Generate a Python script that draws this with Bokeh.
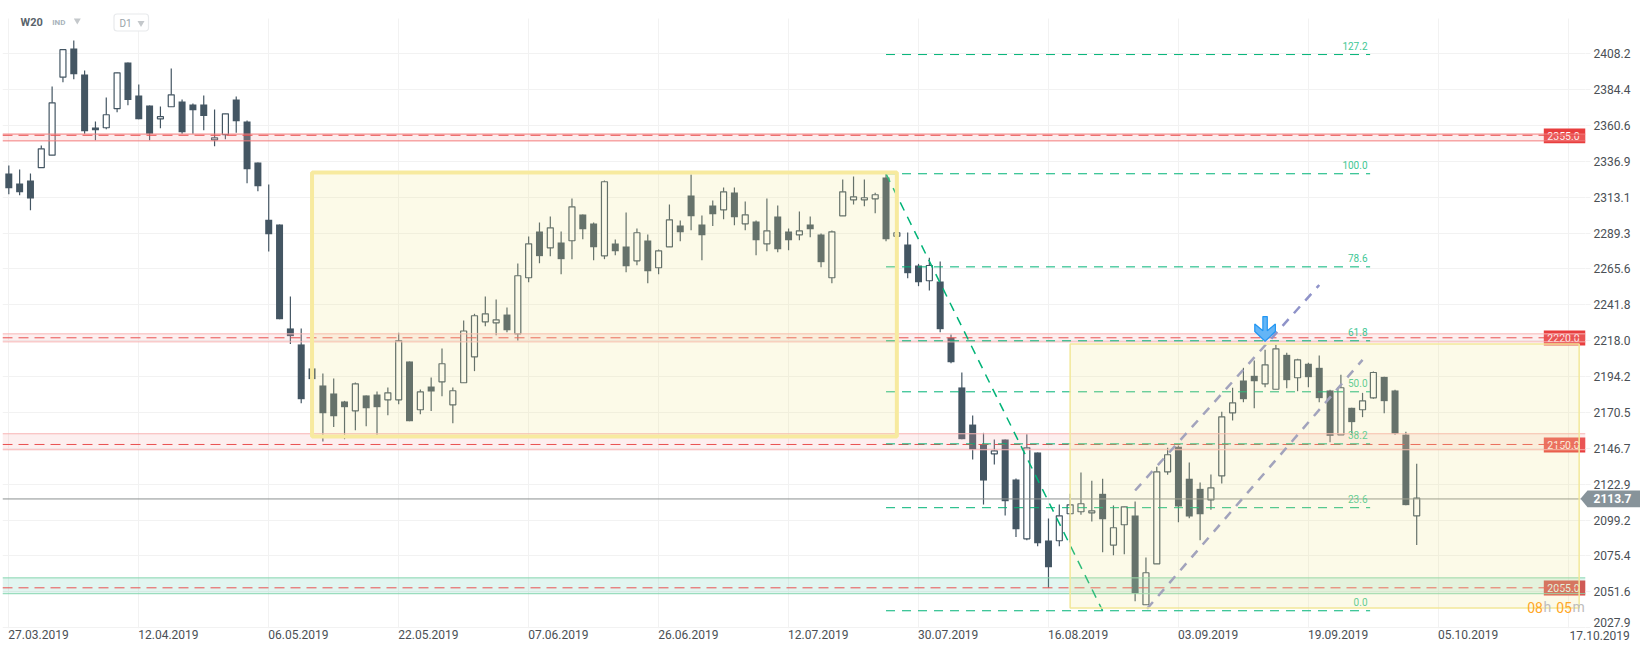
from bokeh.plotting import figure
from bokeh.embed import file_html
from bokeh.resources import INLINE
from bokeh.core.properties import value
from bokeh.models import FixedTicker, Range1d

# ---- candles (price units), index = trading-bar number ----
open_ = [2328.9,2322.2,2324.2,2332.7,2341.0,2392.7,2411.7,2394.5,2359.4,2359.2,2371.8,2402.4,2380.6,2373.9,2365.1,2373.1,2376.6,2374.6,2374.6,2351.2,2354.7,2377.9,2363.3,2336.2,2298.2,2295.1,2226.2,2215.6,2199.7,2188.4,
 2183.1,2177.8,2171.6,2181.8,2182.4,2178.9,2178.9,2204.3,2172.3,2187.7,2190.8,2175.6,2190.2,2207.4,2230.6,2229.9,2235.4,2222.6,2259.8,2290.4,2279.6,2283.2,2284.3,2301.7,2295.7,2274.3,2282.5,2280.5,2271.0,2284.5,
 2266.4,2280.3,2294.4,2314.3,2295.1,2307.7,2304.8,2316.3,2295.5,2297.1,2282.3,2300.4,2290.4,2288.2,2295.1,2288.5,2259.8,2300.8,2311.4,2311.4,2312.1,2326.2,2287.3,2281.8,2267.9,2257.8,2257.3,2220.0,2187.1,2162.5,
 2149.1,2143.1,2152.6,2126.1,2086.8,2144.0,2085.7,2085.5,2103.4,2104.7,2104.0,2116.6,2082.6,2096.1,2102.2,2043.1,2070.2,2131.2,2147.8,2126.6,2119.9,2112.6,2128.5,2170.3,2191.7,2194.8,2189.5,2185.9,2208.7,2193.5,
 2202.8,2200.1,2185.1,2155.7,2173.6,2172.3,2180.2,2194.1,2185.1,2155.9,2102.0]
high = [2334.2,2331.5,2328.9,2347.4,2386.5,2410.9,2417.0,2397.1,2363.3,2379.2,2395.8,2402.4,2387.9,2373.9,2373.3,2398.5,2377.9,2375.3,2380.6,2371.3,2368.4,2379.9,2364.0,2336.2,2321.6,2295.1,2247.4,2226.2,2199.7,2196.3,
 2193.0,2178.2,2190.4,2181.8,2184.4,2187.1,2223.3,2204.3,2185.7,2193.7,2212.9,2187.1,2231.5,2235.9,2247.4,2245.4,2240.1,2269.2,2287.1,2296.4,2300.4,2290.4,2312.3,2301.7,2296.4,2324.2,2285.1,2303.0,2292.4,2288.5,
 2278.5,2308.3,2297.7,2328.2,2301.0,2311.0,2319.6,2319.6,2310.3,2297.7,2312.3,2307.7,2292.4,2303.7,2300.4,2289.1,2291.1,2324.9,2326.9,2324.9,2316.1,2328.9,2289.6,2289.8,2269.0,2273.0,2270.6,2222.2,2197.0,2168.5,
 2157.0,2152.6,2152.6,2126.8,2156.1,2144.0,2100.2,2109.5,2116.6,2130.7,2125.2,2126.6,2108.9,2108.0,2111.5,2074.4,2134.5,2147.1,2148.6,2137.4,2124.1,2129.4,2171.0,2186.9,2200.1,2205.0,2212.0,2215.4,2210.1,2206.1,
 2203.4,2208.3,2185.5,2195.5,2173.6,2183.5,2197.7,2194.1,2185.5,2157.7,2136.5]
low = [2315.2,2314.5,2304.6,2332.7,2341.0,2389.4,2391.4,2355.2,2350.9,2358.2,2369.5,2374.1,2364.9,2350.9,2358.9,2373.1,2355.2,2355.2,2357.6,2347.0,2351.6,2355.8,2322.4,2317.1,2277.2,2232.3,2215.8,2176.7,2192.6,2151.3,
 2160.8,2152.8,2158.8,2161.4,2155.5,2168.7,2176.0,2164.7,2169.4,2171.4,2181.3,2163.4,2190.2,2197.9,2227.7,2221.7,2223.7,2218.2,2256.8,2269.4,2274.1,2262.1,2272.1,2285.3,2271.4,2272.1,2274.7,2263.5,2268.1,2256.2,
 2262.1,2280.3,2284.0,2291.3,2271.4,2294.0,2298.6,2294.6,2291.3,2274.7,2277.4,2276.7,2278.0,2284.7,2286.7,2266.8,2256.2,2300.8,2308.3,2307.2,2302.6,2284.0,2287.3,2259.5,2254.2,2251.3,2223.7,2203.2,2152.8,2139.3,
 2109.5,2136.0,2102.2,2087.9,2085.9,2081.9,2054.3,2081.9,2084.3,2102.7,2098.3,2077.9,2075.9,2076.6,2045.4,2043.1,2070.2,2129.2,2097.8,2100.4,2085.9,2106.0,2123.4,2165.2,2177.3,2173.3,2187.3,2185.9,2186.6,2184.6,
 2187.3,2177.3,2150.8,2155.7,2155.7,2167.4,2179.6,2170.0,2155.7,2109.1,2082.6]
close = [2319.1,2316.5,2312.3,2345.2,2375.7,2410.9,2394.7,2356.9,2357.6,2367.8,2395.6,2377.5,2364.9,2355.2,2366.5,2381.0,2356.2,2370.8,2366.9,2352.5,2368.4,2363.5,2331.7,2320.5,2288.6,2232.3,2221.1,2179.3,2192.6,2170.0,
 2168.0,2174.0,2189.5,2173.3,2174.0,2183.5,2218.0,2164.7,2184.2,2184.4,2202.8,2184.9,2224.5,2234.6,2235.9,2231.9,2225.0,2261.1,2282.3,2274.1,2292.9,2272.1,2306.8,2292.0,2280.0,2323.4,2277.4,2267.4,2289.6,2264.1,
 2277.6,2298.2,2290.0,2300.6,2288.0,2301.9,2316.7,2299.9,2301.5,2284.7,2290.9,2278.7,2284.7,2290.9,2292.0,2270.1,2290.2,2316.7,2313.4,2312.8,2314.8,2285.3,2289.6,2262.8,2256.8,2267.9,2225.7,2203.8,2152.8,2146.0,
 2125.4,2145.1,2111.7,2093.2,2147.1,2083.9,2068.0,2102.0,2109.3,2110.0,2105.3,2099.8,2094.1,2108.0,2050.5,2064.3,2131.2,2142.5,2108.2,2101.6,2103.1,2120.6,2167.6,2176.9,2179.3,2191.2,2202.1,2212.7,2191.9,2205.4,
 2193.9,2180.0,2155.0,2186.9,2164.1,2178.2,2197.0,2178.0,2156.4,2109.1,2113.7]

# ---- axes ----
y_ticks = [2408.2,2384.4,2360.6,2336.9,2313.1,2289.3,2265.6,2241.8,2218.0,2194.2,2170.5,2146.7,2122.9,2099.2,2075.4,2051.6,2027.9]
x_tick_bars = [0,12,24,36,48,60,72,84,96,108,120,132,144]
x_tick_labels = ["27.03.2019","12.04.2019","06.05.2019","22.05.2019","07.06.2019","26.06.2019","12.07.2019","30.07.2019","16.08.2019","03.09.2019","19.09.2019","05.10.2019","17.10.2019"]

# ---- zones ----
zone_labels = ["2355.0","2220.0","2150.0","2055.0"]
zone_mid    = [2354.2,2220.0,2149.3,2054.3]
zone_top    = [2355.0,2222.6,2156.4,2060.9]
zone_bottom = [2350.5,2217.3,2145.8,2050.4]
tag_top     = [2358.7,2224.8,2153.9,2059.1]
tag_bottom  = [2349.0,2214.9,2144.0,2049.2]

# ---- fibonacci ----
fib_labels = ["127.2","100.0","78.6","61.8","50.0","38.2","23.6","0.0"]
fib_prices = [2407.7,2328.7,2267.0,2218.0,2184.2,2149.7,2107.4,2039.1]
fib_start_bar, fib_end_bar = 81, 125.7
fib_trend_bars = [81, 101]
fib_trend_prices = [2328.7, 2039.1]

# ---- channel ----
chan_up_bars, chan_up_prices = [104.0, 121.0], [2118.8, 2255.0]
chan_lo_bars, chan_lo_prices = [105.1, 125.0], [2040.4, 2205.4]

# ---- boxes (bars, prices) ----
box1 = (28, 82, 2329.5, 2154.6)
box2 = (98, 145, 2215.9, 2041.0)

last_price = 2113.7
last_line = 2113.2
arrow_bar, arrow_price = 116, 2217.7

# pixel <-> data calibration of the frame
PX0, PXB = 8.3, 10.83
KY, Y0 = 0.6627, 2443.52
X = lambda px: (px - PX0) / PXB
Y = lambda py: Y0 - KY * py

W, H = 1640, 646
FL, FR, FT, FB = 2, 1585, 12, 628
p = figure(width=W, height=H, output_backend="svg", toolbar_location=None,
           x_range=Range1d(X(FL), X(FR)), y_range=Range1d(Y(FB), Y(FT)),
           x_axis_location="below", y_axis_location="right",
           min_border_left=FL, min_border_right=W - FR, min_border_top=FT, min_border_bottom=H - FB,
           background_fill_color="white", border_fill_color="white", outline_line_color=None,
           tools="")
p.styles = {"position": "absolute", "left": "0px", "top": "0px"}

TXT = "#4a4f55"
FONT = "Roboto"
GRID = "#f2f2f2"

xa = p.xaxis[0]
label_shift = 29.7 / PXB
x_label_ticks = [b + label_shift for b in x_tick_bars[:-1]]
xa.ticker = FixedTicker(ticks=x_label_ticks)
xa.major_label_overrides = {t: s for t, s in zip(x_label_ticks, x_tick_labels)}
xa.axis_line_color = None
xa.major_tick_line_color = None
xa.minor_tick_line_color = None
xa.major_tick_out = 0
xa.major_tick_in = 0
xa.major_label_standoff = 1
xa.major_label_text_font = FONT
xa.major_label_text_font_size = "12px"
xa.major_label_text_color = TXT

ya = p.yaxis[0]
ya.ticker = FixedTicker(ticks=y_ticks)
ya.major_label_overrides = {t: (f"{t:.1f}" if t != y_ticks[-1] else "") for t in y_ticks}
ya.axis_line_color = None
ya.minor_tick_line_color = None
ya.major_tick_line_color = GRID
ya.major_tick_out = 5
ya.major_tick_in = 0
ya.major_label_standoff = 3
ya.major_label_text_font = FONT
ya.major_label_text_font_size = "12px"
ya.major_label_text_color = TXT

p.xgrid[0].ticker = FixedTicker(ticks=x_tick_bars)
p.ygrid[0].ticker = FixedTicker(ticks=y_ticks)
p.xgrid[0].grid_line_color = GRID
p.ygrid[0].grid_line_color = GRID
p.xgrid[0].grid_line_width = 1
p.ygrid[0].grid_line_width = 1

# white strip above the vertical grid
p.quad(left=X(FL - 2), right=X(FR), top=Y(FT), bottom=Y(18), fill_color="white", line_color=None)

# candles
DARK = "#445663"
bars = list(range(len(open_)))
up = [i for i in bars if close[i] > open_[i]]
dn = [i for i in bars if close[i] <= open_[i]]
p.segment(x0=bars, x1=bars, y0=low, y1=high, line_color=DARK, line_width=1.2)
p.vbar(x=dn, width=7 / PXB, top=[open_[i] for i in dn], bottom=[close[i] for i in dn],
       fill_color=DARK, line_color=None)
p.vbar(x=up, width=6 / PXB, top=[close[i] for i in up], bottom=[open_[i] for i in up],
       fill_color="white", line_color=DARK, line_width=1.2)

# zone tags at the right
p.quad(left=X(1543.3), right=X(FR), top=tag_top, bottom=tag_bottom, fill_color="#e83e3e", line_color=None)
p.text(x=[X(1563)] * 4, y=[(a + b) / 2 for a, b in zip(tag_top, tag_bottom)], text=zone_labels,
       text_font=value(FONT), text_font_size="10.5px", text_color="#ffffff",
       text_align="center", text_baseline="middle")

# zones
zone_fill = ["#f5aeae", "#f5aeae", "#f5aeae", "#6ecdb4"]
zone_line = ["#f47c7c", "#f8b5b5", "#f8b5b5", "#86d6b0"]
zone_alpha = [0.22, 0.2, 0.2, 0.2]
p.quad(left=X(FL), right=X(FR), top=zone_top, bottom=zone_bottom, fill_color=zone_fill,
       fill_alpha=zone_alpha, line_color=None)
for t, b, c in zip(zone_top, zone_bottom, zone_line):
    p.line([X(FL), X(FR)], [t, t], line_color=c, line_width=1)
    p.line([X(FL), X(FR)], [b, b], line_color=c, line_width=1)
for m in zone_mid:
    p.line([X(FL), X(FR)], [m, m], line_color="#e95050", line_width=1, line_dash="10 6")

# current price line
p.line([X(FL), X(1580)], [last_line, last_line], line_color="#8b9090", line_width=1)

# fibonacci
FIB = "#00b377"
for v in fib_prices:
    p.line([fib_start_bar, fib_end_bar], [v, v], line_color=FIB, line_width=1, line_dash="9 7")
p.line(fib_trend_bars, fib_trend_prices, line_color=FIB, line_width=1.5, line_dash="9 7")
p.text(x=[X(1367)] * len(fib_prices), y=fib_prices, text=fib_labels, y_offset=-8.5,
       text_font=value(FONT), text_font_size="10px", text_color="#3fc795",
       text_align="right", text_baseline="middle")

# channel
for xs, ys in ((chan_up_bars, chan_up_prices), (chan_lo_bars, chan_lo_prices)):
    p.line(xs, ys, line_color="#8f93c9", line_width=2.5, line_dash="9 8")

# yellow boxes (over everything so far)
p.quad(left=box1[0], right=box1[1], top=box1[2], bottom=box1[3], fill_color="#f0e68c", fill_alpha=0.2,
       line_color="#f7ea9f", line_width=4)
p.quad(left=box2[0], right=box2[1], top=box2[2], bottom=box2[3], fill_color="#f0e68c", fill_alpha=0.2,
       line_color="#f2e89a", line_width=1.5)

# arrow marker
shape = [(-2.2,-24.7),(2.2,-24.7),(2.2,-10.5),(10.3,-17.3),(10.3,-9.7),(0,0),(-10.3,-9.7),(-10.3,-17.3),(-2.2,-10.5)]
p.patch([arrow_bar + dx / PXB for dx, _ in shape], [arrow_price - dy * KY for _, dy in shape],
        fill_color="#64b5f6", line_color="#2196f3", line_width=1.2)

# countdown
for s, px, col in (("08", 1526.7, "#ffa726"), ("h", 1543, "#bdbdbd"), ("05", 1555.7, "#ffa726"), ("m", 1572, "#bdbdbd")):
    p.text(x=[X(px)], y=[Y(606.7)], text=[s], text_font=value(FONT), text_font_size="14px", text_color=col,
           text_align="left", text_baseline="middle")

# header
p.text(x=[X(20)], y=[Y(22)], text=["W20"], text_font=value(FONT), text_font_size="11px", text_font_style="bold",
       text_color="#59636b", text_baseline="middle")
p.text(x=[X(51.7)], y=[Y(22)], text=["IND"], text_font=value(FONT), text_font_size="8px", text_font_style="bold",
       text_color="#a8b3bb", text_baseline="middle")
p.scatter(x=[X(76.8)], y=[Y(20)], marker="inverted_triangle", size=7, fill_color="#c4c8cb", line_color=None)
p.quad(left=X(113.5), right=X(148), top=Y(13.5), bottom=Y(30.5), fill_color="white", line_color="#e8eaec",
       line_width=1.2, border_radius=3)
p.text(x=[X(119)], y=[Y(22.5)], text=["D1"], text_font=value(FONT), text_font_size="10px",
       text_color="#9aa4aa", text_baseline="middle")
p.scatter(x=[X(140.5)], y=[Y(22.5)], marker="inverted_triangle", size=7, fill_color="#c4c8cb", line_color=None)

# transparent strip over the right edge: price tag and the two shifted axis labels
SL = 1566
q = figure(width=W - SL, height=H, output_backend="svg", toolbar_location=None, tools="",
           x_range=Range1d(X(SL), X(W)), y_range=Range1d(Y(H), Y(0)),
           x_axis_location=None, y_axis_location=None,
           min_border_left=0, min_border_right=0, min_border_top=0, min_border_bottom=0,
           background_fill_color=None, border_fill_color=None, outline_line_color=None)
q.grid.visible = False
q.styles = {"position": "absolute", "left": f"{SL}px", "top": "0px"}
ly = Y(498.2)
q.patch([X(1580), X(1587), X(1640), X(1640), X(1587)], [ly, Y(490), Y(490), Y(506.7), Y(506.7)],
        fill_color="#87939a", line_color=None)
q.text(x=[X(1593)], y=[ly], text=[f"{last_price:.1f}"], text_font=value(FONT), text_font_size="12px",
       text_font_style="bold", text_color="white", text_baseline="middle")
q.text(x=[X(1569)], y=[Y(634.5)], text=[x_tick_labels[-1]], text_font=value(FONT), text_font_size="12px",
       text_color=TXT, text_baseline="middle")
q.text(x=[X(1593)], y=[Y(621.7)], text=[f"{y_ticks[-1]:.1f}"], text_font=value(FONT), text_font_size="12px",
       text_color=TXT, text_baseline="middle")

open("out.html", "w").write(file_html([p, q], INLINE))
